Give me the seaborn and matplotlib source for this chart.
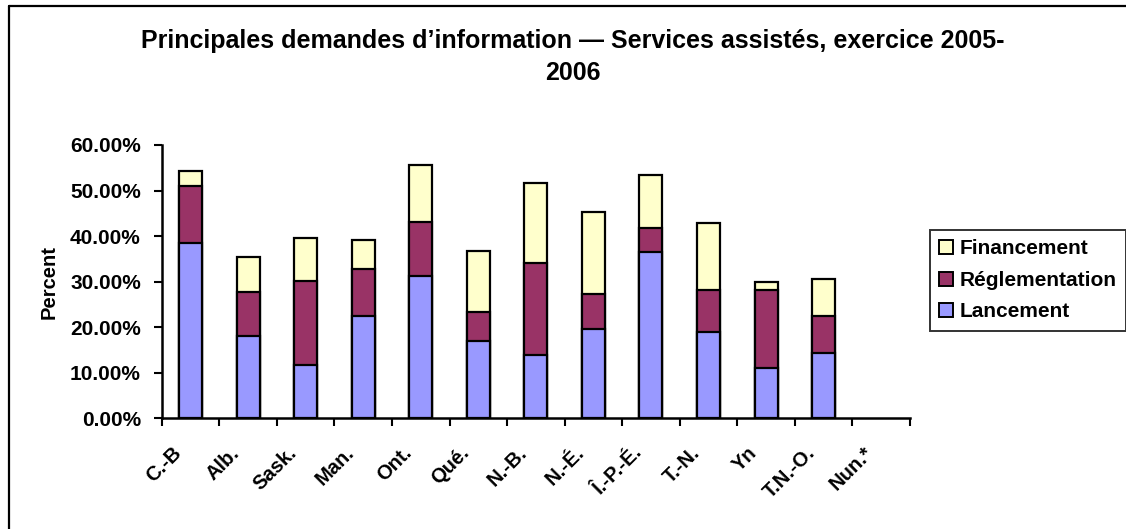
import matplotlib
matplotlib.use("Agg")
import matplotlib.pyplot as plt
import seaborn as sns
import pandas as pd
import numpy as np
from matplotlib.lines import Line2D
from matplotlib.patches import Patch

sns.set_style("ticks")
plt.rcParams['font.family'] = ['Liberation Sans', 'DejaVu Sans']
plt.rcParams['text.color'] = 'black'
plt.rcParams['axes.labelcolor'] = 'black'
plt.rcParams['xtick.color'] = 'black'
plt.rcParams['ytick.color'] = 'black'

categories = ["C.-B", "Alb.", "Sask.", "Man.", "Ont.", "Qué.", "N.-B.", "N.-É.",
              "Î.-P.-É.", "T.-N.", "Yn", "T.N.-O.", "Nun.*"]
lancement = [38.4, 18.1, 11.7, 22.5, 31.3, 17.0, 14.0, 19.6, 36.4, 18.9, 11.0, 14.3, 0.0]
reglementation = [12.6, 9.6, 18.4, 10.2, 11.7, 6.4, 20.0, 7.6, 5.4, 9.2, 17.1, 8.2, 0.0]
financement = [3.3, 7.8, 9.4, 6.4, 12.6, 13.3, 17.6, 18.2, 11.6, 14.7, 1.9, 8.1, 0.0]
series_names = ["Financement", "Réglementation", "Lancement"]
colors = {"Lancement": "#9999FF", "Réglementation": "#993366", "Financement": "#FFFFCC"}
yticks = [0, 10, 20, 30, 40, 50, 60]
title = "Principales demandes d’information — Services assistés, exercice 2005-\n2006"

df = pd.DataFrame({"cat": categories,
                   "Lancement": np.array(lancement) / 100,
                   "Réglementation": np.array(reglementation) / 100,
                   "Financement": np.array(financement) / 100})
df["cum_lanc"] = df["Lancement"]
df["cum_reg"] = df["cum_lanc"] + df["Réglementation"]
df["cum_fin"] = df["cum_reg"] + df["Financement"]

fig = plt.figure(figsize=(11.26, 5.29), dpi=100)
ax = fig.add_axes([161.7 / 1126, 110.7 / 529, (910 - 161.7) / 1126, (418.3 - 145) / 529])

lw = 1.6
for col, name in [("cum_fin", "Financement"), ("cum_reg", "Réglementation"), ("cum_lanc", "Lancement")]:
    sns.barplot(data=df, x="cat", y=col, color=colors[name], saturation=1, width=0.4,
                edgecolor="black", linewidth=lw, ax=ax, order=categories)
for p in ax.patches:
    if p.get_height() == 0:
        p.set_visible(False)

ax.set_xlim(-0.5, len(categories) - 0.5)
ax.set_ylim(0, 0.6)
ax.set_yticks([v / 100 for v in yticks])
ax.set_yticklabels([f"{v:.2f}%" for v in yticks], fontsize=15, fontweight="bold")
# label anchors slightly left of each category centre, as in the reference
ax.set_xticks(np.arange(len(categories)) - 0.32)
ax.set_xticklabels(categories, fontsize=14.5, fontweight="bold", rotation=45,
                   ha="right", va="top", rotation_mode="anchor")
ax.set_xticks(np.arange(-0.5, len(categories), 1), minor=True)
ax.tick_params(axis="x", which="major", bottom=True, length=0, pad=18)
ax.tick_params(axis="x", which="minor", bottom=True, length=6, width=1.5, direction="out", color="black")
ax.tick_params(axis="y", which="major", left=True, length=6, width=1.5, direction="out", color="black", pad=9)
ax.set_xlabel("")
ax.set_ylabel("Percent", fontsize=14.5, fontweight="bold", labelpad=8)
for s in ["top", "right"]:
    ax.spines[s].set_visible(False)
for s in ["left", "bottom"]:
    ax.spines[s].set_color("black")
    ax.spines[s].set_linewidth(1.8)
ax.grid(False)

fig.text(0.509, 1 - 80 / 529, title, ha="center", va="baseline", fontsize=18, fontweight="bold",
         linespacing=1.4, multialignment="center")

handles = [Patch(facecolor=colors[n], edgecolor="black", linewidth=1.4, label=n) for n in series_names]
leg = fig.legend(handles=handles, loc="upper left", bbox_to_anchor=(930 / 1126, 1 - 230 / 529),
                 frameon=True, fancybox=False, edgecolor="black",
                 prop={"weight": "bold", "size": 15}, handlelength=0.65, handleheight=0.65,
                 handletextpad=0.3, labelspacing=0.6, borderpad=0.45, borderaxespad=0)
leg.get_frame().set_linewidth(1.4)

fig.add_artist(Line2D([9 / 1126, 9 / 1126], [0, 1 - 6 / 529], color="black", linewidth=1.6,
                      transform=fig.transFigure))
fig.add_artist(Line2D([9 / 1126, 1], [1 - 6 / 529, 1 - 6 / 529], color="black", linewidth=1.6,
                      transform=fig.transFigure))

fig.savefig("out.png", dpi=100)
